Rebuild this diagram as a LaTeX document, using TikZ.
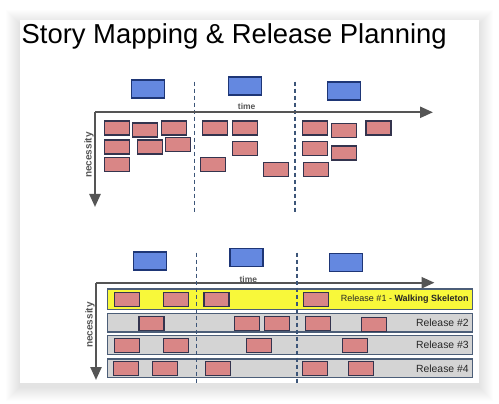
\documentclass[tikz,border=0pt]{standalone}
\usepackage{fontspec}
\setmainfont{Liberation Sans}
\usetikzlibrary{arrows.meta,calc}
\definecolor{storyfill}{RGB}{217,134,134}
\definecolor{storyline}{RGB}{52,52,78}
\definecolor{epicfill}{RGB}{100,136,224}
\definecolor{epicline}{RGB}{30,54,118}
\definecolor{axisgray}{RGB}{85,85,85}
\definecolor{divider}{RGB}{60,85,120}
\definecolor{barline}{RGB}{76,94,120}
\definecolor{barfill}{RGB}{212,212,212}
\definecolor{skeleton}{RGB}{248,248,58}
\tikzset{
  story/.style={draw=storyline, fill=storyfill, line width=1.1pt,
    minimum width=25pt, minimum height=14pt, inner sep=0pt},
  epic/.style={draw=epicline, fill=epicfill, line width=1.1pt,
    minimum width=33pt, minimum height=18pt, inner sep=0pt},
  axisline/.style={draw=axisgray, line width=2.4pt,
    -{Triangle[length=13pt,width=11pt]}},
  divline/.style={draw=divider, line width=1.1pt, dash pattern=on 4pt off 3pt},
  releasebar/.style={draw=barline, fill=barfill, line width=1.2pt,
    minimum width=365.4pt, minimum height=18.7pt, inner sep=0pt},
  axislabel/.style={text=axisgray, inner sep=0pt, font=\fontsize{8.5}{10}\selectfont\bfseries},
  relabel/.style={inner sep=0pt, anchor=east, text=black!85}
}
\begin{document}
\begin{tikzpicture}[x=1pt, y=-1pt]
\useasboundingbox (0,0) rectangle (499,404);
% soft card shadow
\foreach \d in {1,...,14}{
  \fill[black, opacity=0.006] ($(20,20)+(-\d,-\d+4)$) rectangle ($(479,383)+(\d,\d+4)$);
}
\fill[white] (20,20) rectangle (479,383);

% title
\node[anchor=base west, inner sep=0pt, font=\fontsize{27.4}{32}\selectfont] (title) at (21.5,44)
  {Story Mapping \& Release Planning};

% ---------------- story map ----------------
\coordinate (a1t) at (194.3,81.7); \coordinate (a1b) at (194.3,213);
\coordinate (a2t) at (295,81.7);   \coordinate (a2b) at (295,213);
\draw[divline] (a1t) -- (a1b);
\draw[divline] (a2t) -- (a2b);

\coordinate (ao) at (95,112.3);
\coordinate (ax) at (433,112.3);
\coordinate (ay) at (95,207);
\draw[axisline] (ao) -- (ax);
\draw[axisline] (ao) -- (ay);
\node[axislabel] (atime) at (246.7,106.5) {time};
\node[axislabel, rotate=90, font=\fontsize{10}{12}\selectfont\bfseries] (anec) at (89,155) {necessity};

\node[epic] (ae1) at (148,89) {};
\node[epic] (ae2) at (245,86) {};
\node[epic] (ae3) at (343.7,91) {};

\node[story] (as1) at (117,128) {};
\node[story] (as2) at (145,130) {};
\node[story] (as3) at (174,128) {};
\node[story] (as4) at (215,128) {};
\node[story] (as5) at (245,128) {};
\node[story] (as6) at (315,128) {};
\node[story] (as7) at (344,130.5) {};
\node[story] (as8) at (378.5,128) {};
\node[story] (as9) at (117,147) {};
\node[story] (as10) at (150,147) {};
\node[story] (as11) at (178,144.7) {};
\node[story] (as12) at (245.3,148.5) {};
\node[story] (as13) at (315,148.5) {};
\node[story] (as14) at (344,153) {};
\node[story] (as15) at (117,164.3) {};
\node[story] (as16) at (213,164.3) {};
\node[story] (as17) at (276,169.5) {};
\node[story] (as18) at (316.3,169.5) {};

% ---------------- release plan ----------------
\coordinate (bo) at (96,282.7);
\coordinate (bx) at (434.5,282.7);
\coordinate (by) at (96,380);
\draw[axisline] (bo) -- (bx);
\draw[axisline] (bo) -- (by);
\node[axislabel] (btime) at (248.3,279) {time};
\node[axislabel, rotate=90, font=\fontsize{10}{12}\selectfont\bfseries] (bnec) at (90,325) {necessity};

\node[epic] (be1) at (150,261) {};
\node[epic] (be2) at (246.5,257.5) {};
\node[epic] (be3) at (345.7,262.5) {};

\node[releasebar, fill=skeleton, minimum height=20.3pt] (r1) at (290,299.2) {};
\node[releasebar] (r2) at (290,322.7) {};
\node[releasebar] (r3) at (290,345) {};
\node[releasebar] (r4) at (290,368.3) {};

\node[relabel, font=\fontsize{9}{11}\selectfont] (l1) at ([xshift=-4.4pt]r1.east)
  {Release \#1 - \textbf{Walking Skeleton}};
\node[relabel, font=\fontsize{10.4}{12}\selectfont] (l2) at ([xshift=-4.4pt]r2.east) {Release \#2};
\node[relabel, font=\fontsize{10.4}{12}\selectfont] (l3) at ([xshift=-4.4pt]r3.east) {Release \#3};
\node[relabel, font=\fontsize{10.4}{12}\selectfont] (l4) at ([xshift=-4.4pt]r4.east) {Release \#4};

\coordinate (b1t) at (196.3,252.7); \coordinate (b1b) at (196.3,383.3);
\coordinate (b2t) at (297,252.7);   \coordinate (b2b) at (297,383.3);
\draw[divline] (b1t) -- (b1b);
\draw[divline] (b2t) -- (b2b);

\node[story] (bs1) at (126.8,299.5) {};
\node[story] (bs2) at (175.8,299.5) {};
\node[story] (bs3) at (216.5,299.5) {};
\node[story] (bs4) at (315.8,299.5) {};
\node[story] (bs5) at (151.5,323.2) {};
\node[story] (bs6) at (246.7,323.2) {};
\node[story] (bs7) at (276.7,323.2) {};
\node[story] (bs8) at (317.7,323.2) {};
\node[story] (bs9) at (374.2,324.2) {};
\node[story] (bs10) at (126.8,345.2) {};
\node[story] (bs11) at (175.8,345.2) {};
\node[story] (bs12) at (259.2,345.2) {};
\node[story] (bs13) at (354.8,345.2) {};
\node[story] (bs14) at (126.2,368.3) {};
\node[story] (bs15) at (164.8,368.3) {};
\node[story] (bs16) at (218.2,368.3) {};
\node[story] (bs17) at (315.2,368.3) {};
\node[story] (bs18) at (360.8,368.3) {};
\end{tikzpicture}
\end{document}
